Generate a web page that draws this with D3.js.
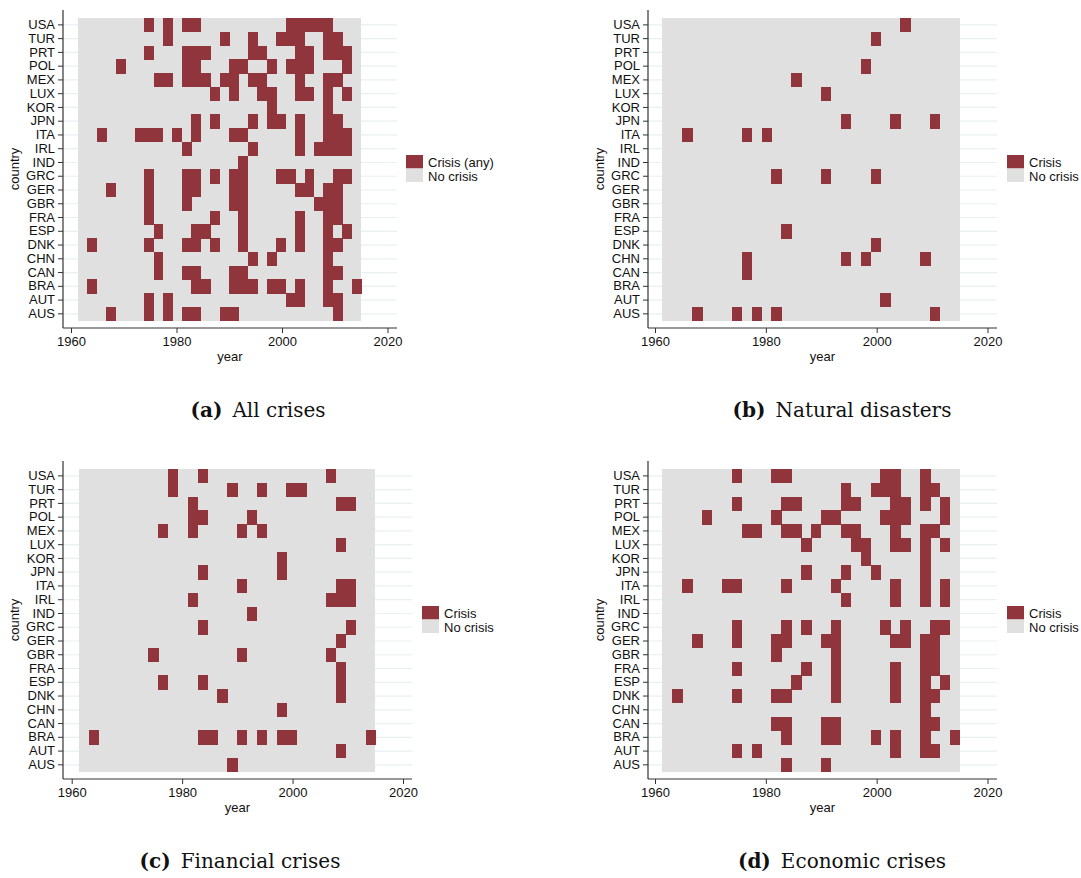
<!DOCTYPE html>
<html>
<head>
<meta charset="utf-8">
<script src="https://cdn.jsdelivr.net/npm/d3@7"></script>
<style>
  body { margin: 0; background: #fff; }
  text { font-family: "Liberation Sans", Arial, sans-serif; }
</style>
</head>
<body>
<script>
// countries, top to bottom
const countries = ["USA","TUR","PRT","POL","MEX","LUX","KOR","JPN","ITA","IRL","IND",
                   "GRC","GER","GBR","FRA","ESP","DNK","CHN","CAN","BRA","AUT","AUS"];

// year bins of the heat plot (30 bins between the first and last year)
const binStart = 1961.33;
const binEnd = 2015;
const nBins = 30;
const yearTicks = [1960, 1980, 2000, 2020];

// crisis bins per country (same order as countries)
const allCrises = [
  [7,9,11,12,22,23,24,25,26], [9,15,18,21,22,23,26,27], [7,11,12,13,18,19,23,24,26,27,28],
  [4,11,12,16,17,20,22,23,24,28], [8,9,11,12,13,15,16,18,19,23,26,27], [14,16,19,20,23,24,26,28],
  [20,26], [12,14,18,20,21,23,26,27], [2,6,7,8,10,12,16,17,23,26,27,28], [11,18,23,25,26,27,28],
  [17], [7,11,12,14,16,17,21,22,24,27,28], [3,7,11,12,16,17,23,24,26,27], [7,11,16,17,25,26,27],
  [7,14,17,23,26,27], [8,12,13,17,23,26,28], [1,7,11,12,14,17,21,23,26,27], [8,18,20,26],
  [8,11,12,16,17,26,27], [1,12,13,16,17,18,20,21,23,26,29], [7,9,22,23,26,27], [3,7,9,11,12,15,16,27]
];
const naturalDisasters = [
  [24], [21], [], [20], [13], [16], [], [18,23,27], [2,8,10], [], [],
  [11,16,21], [], [], [], [12], [21], [8,18,20,26], [8], [], [22], [3,7,9,11,27]
];
const financialCrises = [
  [9,12,25], [9,15,18,21,22], [11,26,27], [11,12,17], [8,11,16,18], [26], [20], [12,20],
  [16,26,27], [11,25,26,27], [17], [12,27], [26], [7,16,25], [26], [8,12,26], [14,26], [20],
  [], [1,12,13,16,18,20,21,29], [26], [15]
];
const economicCrises = [
  [7,11,12,22,23,26], [18,21,22,23,26,27], [7,12,13,18,19,23,24,26,28], [4,11,16,17,22,23,24,28],
  [8,9,12,13,15,18,19,23,26,27], [14,19,20,23,24,26,28], [20,26], [14,18,21,26],
  [2,6,7,12,17,23,26,28], [18,23,26,28], [], [7,12,14,17,22,24,27,28], [3,7,11,12,16,17,23,24,26,27],
  [11,17,26,27], [7,14,17,23,26,27], [13,17,23,26,28], [1,7,11,12,17,23,26,27], [26],
  [11,12,16,17,26,27], [12,16,17,21,23,26,29], [7,9,23,26,27], [12,16]
];

const RED = "#90353b";
const GRAY = "#e0e0e0";

const panels = [
  { data: allCrises, legend: "Crisis (any)", tag: "(a)", title: "All crises",
    oy: 0, axisX: 63, x1960: 71, x2020: 387.5, axisEnd: 397, legendX: 406, capX: 258 },
  { data: naturalDisasters, legend: "Crisis", tag: "(b)", title: "Natural disasters",
    oy: 0, axisX: 648, x1960: 655, x2020: 987.5, axisEnd: 997, legendX: 1007, capX: 842 },
  { data: financialCrises, legend: "Crisis", tag: "(c)", title: "Financial crises",
    oy: 451, axisX: 63, x1960: 71.7, x2020: 403, axisEnd: 412, legendX: 422, capX: 240 },
  { data: economicCrises, legend: "Crisis", tag: "(d)", title: "Economic crises",
    oy: 451, axisX: 648, x1960: 655, x2020: 987.5, axisEnd: 997, legendX: 1007, capX: 842 }
];

const svg = d3.select("body").append("svg")
  .attr("width", 1081)
  .attr("height", 878);

const binW = (binEnd - binStart) / nBins;

panels.forEach(p => {
  const g = svg.append("g").attr("transform", `translate(0,${p.oy})`);
  const top = 18, rowH = 13.76, axisY = 328;

  const x = d3.scaleLinear().domain([1960, 2020]).range([p.x1960, p.x2020]);
  const y = d3.scaleBand().domain(countries).range([top, top + rowH * countries.length]);

  // grid lines
  g.selectAll(".grid").data(countries).enter().append("line")
    .attr("x1", p.axisX).attr("x2", p.axisEnd)
    .attr("y1", d => y(d) + y.bandwidth() / 2)
    .attr("y2", d => y(d) + y.bandwidth() / 2)
    .attr("stroke", "#e8f0f0").attr("stroke-width", 1.2);

  // no-crisis background
  g.append("rect")
    .attr("x", x(binStart)).attr("y", top)
    .attr("width", x(binEnd) - x(binStart))
    .attr("height", y.bandwidth() * countries.length)
    .attr("fill", GRAY)
    .attr("shape-rendering", "crispEdges");

  // crisis cells
  const cells = [];
  countries.forEach((c, i) => p.data[i].forEach(k => cells.push({ c, k })));
  g.selectAll(".cell").data(cells).enter().append("rect")
    .attr("x", d => x(binStart + d.k * binW))
    .attr("width", d => x(binStart + (d.k + 1) * binW) - x(binStart + d.k * binW) + 0.5)
    .attr("y", d => y(d.c))
    .attr("height", y.bandwidth() + 0.5)
    .attr("fill", RED)
    .attr("shape-rendering", "crispEdges");

  // axes
  const yAxis = g.append("g").attr("transform", `translate(${p.axisX},0)`)
    .call(d3.axisLeft(y).tickSize(5).tickPadding(3));
  yAxis.select(".domain").remove();
  yAxis.selectAll("line").attr("stroke", "#333");
  yAxis.selectAll("text").attr("font-size", 13).attr("fill", "#111")
    .style("font-family", "Liberation Sans, Arial, sans-serif");

  const xAxis = g.append("g").attr("transform", `translate(0,${axisY})`)
    .call(d3.axisBottom(x).tickValues(yearTicks).tickFormat(d3.format("d")).tickSize(5).tickPadding(4));
  xAxis.select(".domain").remove();
  xAxis.selectAll("line").attr("stroke", "#333");
  xAxis.selectAll("text").attr("font-size", 13).attr("fill", "#111")
    .style("font-family", "Liberation Sans, Arial, sans-serif");

  g.append("line").attr("x1", p.axisX).attr("x2", p.axisX).attr("y1", 10).attr("y2", axisY)
    .attr("stroke", "#333").attr("stroke-width", 1.2);
  g.append("line").attr("x1", p.axisX).attr("x2", p.axisEnd).attr("y1", axisY).attr("y2", axisY)
    .attr("stroke", "#333").attr("stroke-width", 1.2);

  // axis titles
  g.append("text").attr("x", (p.axisX + p.axisEnd) / 2).attr("y", 361)
    .attr("text-anchor", "middle").attr("font-size", 13).attr("fill", "#111").text("year");
  g.append("text")
    .attr("transform", `translate(${p.axisX - 44},169) rotate(-90)`)
    .attr("text-anchor", "middle").attr("font-size", 13).attr("fill", "#111").text("country");

  // legend
  const lg = g.append("g").attr("transform", `translate(${p.legendX},155)`);
  lg.append("rect").attr("width", 17).attr("height", 13.5).attr("fill", RED);
  lg.append("rect").attr("y", 13.5).attr("width", 17).attr("height", 13.5).attr("fill", GRAY);
  lg.append("text").attr("x", 22).attr("y", 11.5).attr("font-size", 13).attr("fill", "#111").text(p.legend);
  lg.append("text").attr("x", 22).attr("y", 25.5).attr("font-size", 13).attr("fill", "#111").text("No crisis");

  // caption
  const cap = g.append("text")
    .attr("x", p.capX).attr("y", 417)
    .attr("text-anchor", "middle")
    .attr("font-size", 20)
    .attr("fill", "#111")
    .style("font-family", "DejaVu Serif, Liberation Serif, serif");
  cap.append("tspan").attr("font-weight", "bold").text(p.tag);
  cap.append("tspan").text("\u2002" + p.title);
});
</script>
</body>
</html>
